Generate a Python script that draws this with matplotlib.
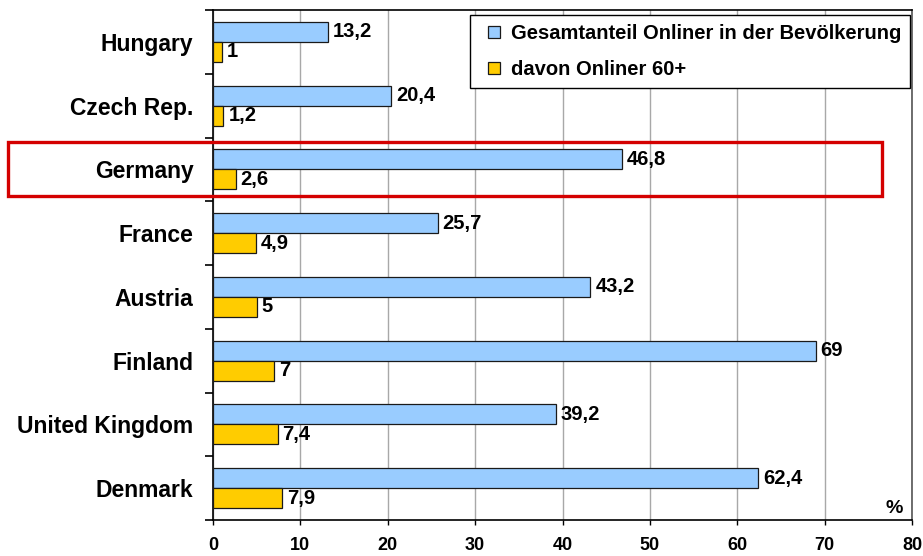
import matplotlib
matplotlib.use("Agg")
import matplotlib.pyplot as plt
import matplotlib.transforms as mtransforms
from matplotlib.patches import Rectangle
from matplotlib.lines import Line2D
import numpy as np

plt.rcParams['font.family'] = ['Liberation Sans', 'DejaVu Sans']
plt.rcParams['font.weight'] = 'bold'

countries = ["Hungary", "Czech Rep.", "Germany", "France", "Austria",
             "Finland", "United Kingdom", "Denmark"]
total_online = [13.2, 20.4, 46.8, 25.7, 43.2, 69, 39.2, 62.4]
online_60plus = [1, 1.2, 2.6, 4.9, 5, 7, 7.4, 7.9]
series_labels = ["Gesamtanteil Onliner in der Bevölkerung", "davon Onliner 60+"]
x_ticks = [0, 10, 20, 30, 40, 50, 60, 70, 80]
highlight = "Germany"

def fmt(v):
    return ("%g" % v).replace(".", ",")

W, H = 923, 556
fig = plt.figure(figsize=(W / 100, H / 100), dpi=100)
ax = fig.add_axes([213 / W, 1 - 520 / H, (912 - 213) / W, (520 - 10) / H])

y = np.arange(len(countries))
bh = 0.314
blue = "#99CCFF"
yellow = "#FFCC00"
ax.barh(y - bh / 2, total_online, height=bh, color=blue, edgecolor="#1a1a1a",
        linewidth=0.9, zorder=3)
ax.barh(y + bh / 2, online_60plus, height=bh, color=yellow, edgecolor="#1a1a1a",
        linewidth=0.9, zorder=3)

for yi, v in zip(y, total_online):
    ax.annotate(fmt(v), (v, yi - bh / 2), xytext=(3.5, 0), textcoords="offset points",
                ha="left", va="center", fontsize=14.5, fontweight="bold", zorder=4)
for yi, v in zip(y, online_60plus):
    ax.annotate(fmt(v), (v, yi + bh / 2), xytext=(3.5, 0), textcoords="offset points",
                ha="left", va="center", fontsize=14.5, fontweight="bold", zorder=4)

ax.set_xlim(0, 80)
ax.set_ylim(len(countries) - 0.5, -0.5)
ax.set_xticks(x_ticks)
ax.set_xticklabels([str(t) for t in x_ticks], fontsize=13, fontweight="bold")
ax.tick_params(axis="x", direction="out", length=3.6, width=1, pad=9, color="black")

ax.set_yticks(y)
ax.set_yticklabels(countries, fontsize=16.5, fontweight="bold")
ax.tick_params(axis="y", which="major", length=0, pad=14)
ax.set_yticks(np.arange(len(countries) + 1) - 0.5, minor=True)
ax.tick_params(axis="y", which="minor", direction="out", length=5.5, width=1.2, color="black")

ax.grid(axis="x", color="#a8a8a8", linewidth=1, zorder=0)
ax.set_axisbelow(True)
for s in ["left", "bottom", "top"]:
    ax.spines[s].set_color("black")
    ax.spines[s].set_linewidth(1.2)
ax.spines["right"].set_color("#555555")
ax.spines["right"].set_linewidth(1.2)

ax.text(0.975, 0.006, "%", transform=ax.transAxes, ha="center", va="bottom",
        fontsize=14, fontweight="bold")

# highlight box around Germany
gi = countries.index(highlight)
trans = mtransforms.blended_transform_factory(ax.transAxes, ax.transData)
x0 = (8 - 213) / (912 - 213)
x1 = (882 - 213) / (912 - 213)
hh = 27 / 63.75
rect = Rectangle((x0, gi - hh), x1 - x0, 2 * hh, transform=trans, fill=False,
                 edgecolor="#D40000", linewidth=2.4, clip_on=False, zorder=10)
ax.add_patch(rect)

handles = [Line2D([], [], marker="s", linestyle="none", markersize=8.5,
                  markerfacecolor=blue, markeredgecolor="#1a1a1a", markeredgewidth=0.9),
           Line2D([], [], marker="s", linestyle="none", markersize=8.5,
                  markerfacecolor=yellow, markeredgecolor="#1a1a1a", markeredgewidth=0.9)]
leg = fig.legend(handles, series_labels, loc="upper right",
                 bbox_to_anchor=(910 / W, 1 - 15 / H), borderaxespad=0,
                 prop={"size": 14.5, "weight": "bold"}, fancybox=False,
                 edgecolor="black", framealpha=1, handlelength=1.5,
                 handletextpad=0.05, labelspacing=0.85, borderpad=0.45)
leg.get_frame().set_linewidth(1.0)

fig.savefig("out.png", dpi=100)
